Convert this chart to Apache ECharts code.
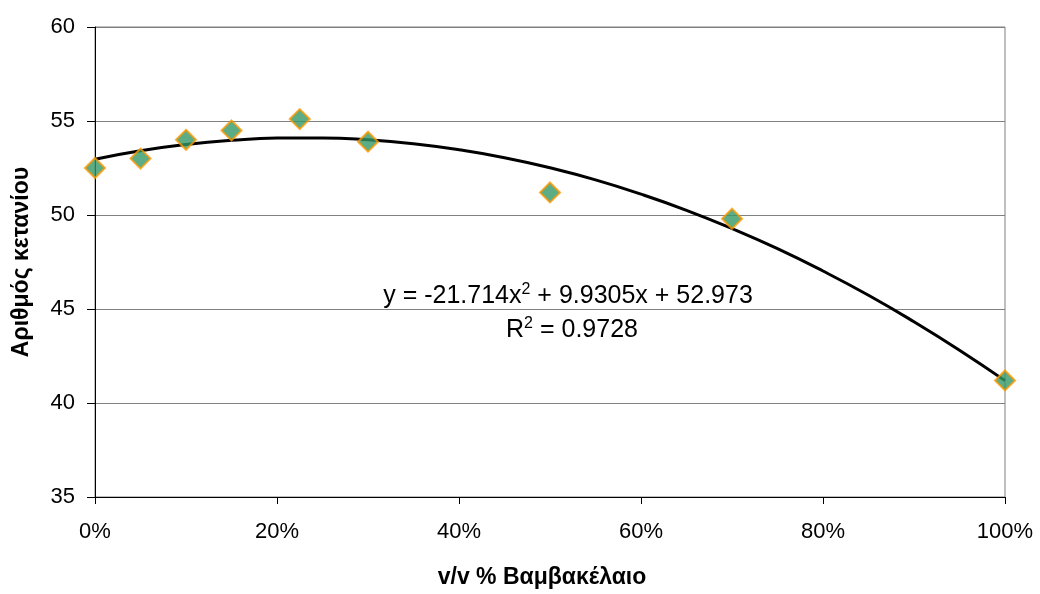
<!DOCTYPE html>
<html>
<head>
<meta charset="utf-8">
<script src="https://cdn.jsdelivr.net/npm/echarts@6/dist/echarts.min.js"></script>
<style>
html,body{margin:0;padding:0;background:#fff;}
#c{width:1040px;height:594px;}
</style>
</head>
<body>
<div id="c"></div>
<script>
// Measured points (fraction of cotton-seed oil, cetane number)
const pointX = [0, 0.05, 0.10, 0.15, 0.225, 0.30, 0.50, 0.70, 1.00];
const pointY = [52.5, 53.0, 54.0, 54.5, 55.1, 53.9, 51.2, 49.8, 41.2];
// Trendline
const trendX = [0, 0.05, 0.10, 0.15, 0.20, 0.25, 0.30, 0.35, 0.40, 0.45, 0.50, 0.55, 0.60, 0.65, 0.70, 0.75, 0.80, 0.85, 0.90, 0.95, 1.00];
const trendY = [52.97, 53.42, 53.75, 53.97, 54.09, 54.10, 54.00, 53.79, 53.47, 53.05, 52.51, 51.87, 51.11, 50.25, 49.28, 48.21, 47.02, 45.73, 44.32, 42.81, 41.19];
const xTicks = [0, 0.2, 0.4, 0.6, 0.8, 1.0];
const yTicks = [35, 40, 45, 50, 55, 60];
const xTitle = 'v/v % Βαμβακέλαιο';
const yTitle = 'Αριθμός κετανίου';
const eqText = ['y = -21.714x', '2', ' + 9.9305x + 52.973'];
const r2Text = ['R', '2', ' = 0.9728'];

const font = '"Liberation Sans", Arial, sans-serif';
const richStyles = {
  a: {fontFamily: font, fontSize: 25, fill: '#000', lineHeight: 28},
  s: {fontFamily: font, fontSize: 16, fill: '#000', padding: [0, 0, 13, 0], lineHeight: 28}
};
const chart = echarts.init(document.getElementById('c'), null, {renderer: 'canvas'});
chart.setOption({
  animation: false,
  backgroundColor: '#ffffff',
  grid: {left: 95, right: 35, top: 27, bottom: 95, show: true, borderColor: '#808080', borderWidth: 1},
  xAxis: {
    type: 'value', min: xTicks[0], max: xTicks[xTicks.length - 1], interval: 0.2,
    name: xTitle, nameLocation: 'middle', nameGap: 69,
    nameTextStyle: {fontFamily: font, fontSize: 23, fontWeight: 'bold', color: '#000', padding: [0, 16, 0, 0]},
    axisLine: {lineStyle: {color: '#000', width: 1}},
    axisTick: {show: true, inside: false, length: 7, lineStyle: {color: '#000'}},
    axisLabel: {margin: 24, fontFamily: font, fontSize: 22, color: '#000',
      formatter: v => Math.round(v * 100) + '%'},
    splitLine: {show: false}
  },
  yAxis: {
    type: 'value', min: yTicks[0], max: yTicks[yTicks.length - 1], interval: 5,
    name: yTitle, nameLocation: 'middle', nameGap: 62, nameRotate: 90,
    nameTextStyle: {fontFamily: font, fontSize: 23, fontWeight: 'bold', color: '#000'},
    axisLine: {show: true, lineStyle: {color: '#000', width: 1}},
    axisTick: {show: true, inside: false, length: 8, lineStyle: {color: '#000'}},
    axisLabel: {margin: 20, fontFamily: font, fontSize: 22, color: '#000'},
    splitLine: {show: true, lineStyle: {color: '#808080', width: 1}}
  },
  series: [
    {
      type: 'line', data: trendX.map((x, i) => [x, trendY[i]]),
      smooth: true, showSymbol: false, z: 2,
      lineStyle: {color: '#000', width: 3}
    },
    {
      type: 'scatter', data: pointX.map((x, i) => [x, pointY[i]]),
      symbol: 'diamond', symbolSize: 20, z: 3,
      itemStyle: {color: '#339966', borderColor: '#FF9900', borderWidth: 2}
    }
  ],
  graphic: [
    {
      type: 'text', z: 10,
      style: {
        text: '{a|' + eqText[0] + '}{s|' + eqText[1] + '}{a|' + eqText[2] + '}',
        x: 568, y: 296, align: 'center', verticalAlign: 'middle',
        rich: richStyles
      }
    },
    {
      type: 'text', z: 10,
      style: {
        text: '{a|' + r2Text[0] + '}{s|' + r2Text[1] + '}{a|' + r2Text[2] + '}',
        x: 572, y: 330, align: 'center', verticalAlign: 'middle',
        rich: richStyles
      }
    }
  ]
});
</script>
</body>
</html>
